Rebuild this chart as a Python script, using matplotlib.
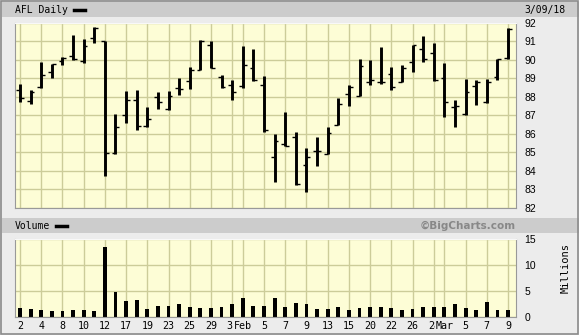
import matplotlib
matplotlib.use('Agg')
import matplotlib.pyplot as plt
from matplotlib.patches import Rectangle

# AFL daily, 2 Jan 2018 .. 9 Mar 2018
months = ['Jan'] * 21 + ['Feb'] * 19 + ['Mar'] * 7
days = [2, 3, 4, 5, 8, 9, 10, 11, 12, 16, 17, 18, 19, 22, 23, 24, 25, 26, 29, 30, 31,
        1, 2, 5, 6, 7, 8, 9, 12, 13, 14, 15, 16, 20, 21, 22, 23, 26, 27, 28,
        1, 2, 5, 6, 7, 8, 9]
opens = [88.38, 87.75, 88.55, 89.36, 89.93, 90.18, 89.91, 91.20, 91.00, 84.95,
         87.02, 87.82, 86.44, 88.00, 87.35, 88.49, 88.84, 89.42, 90.78, 89.09,
         88.64, 88.60, 89.58, 88.65, 84.75, 85.42, 85.84, 84.29, 85.09, 84.91,
         86.47, 88.16, 88.05, 88.78, 88.78, 89.22, 88.80, 89.87, 90.60, 90.36,
         89.00, 87.42, 87.09, 88.60, 87.73, 89.09, 90.07]
highs = [88.67, 88.35, 89.87, 89.76, 90.15, 91.35, 91.13, 91.78, 91.00, 87.09,
         88.29, 88.35, 87.42, 88.24, 88.29, 89.00, 89.60, 91.05, 91.00, 89.20,
         88.89, 90.75, 90.58, 89.11, 86.00, 87.15, 86.09, 85.24, 85.84, 86.38,
         87.91, 88.62, 90.04, 90.00, 90.69, 89.60, 89.69, 90.80, 91.27, 90.91,
         89.82, 87.80, 88.95, 88.89, 88.95, 90.04, 91.71]
lows = [87.71, 87.60, 88.47, 89.02, 89.73, 90.00, 89.80, 90.93, 83.73, 84.93,
        86.56, 86.20, 86.35, 87.33, 87.29, 88.09, 88.42, 89.42, 89.53, 88.47,
        87.82, 88.47, 88.87, 86.07, 83.38, 85.31, 83.24, 82.84, 84.27, 84.89,
        86.47, 87.49, 88.05, 88.64, 88.71, 88.36, 88.78, 89.35, 89.89, 88.87,
        86.89, 86.35, 87.04, 87.56, 87.67, 88.91, 90.04]
closes = [87.95, 88.24, 89.15, 89.75, 90.11, 90.04, 90.75, 91.71, 84.95, 86.36,
          87.84, 86.40, 86.82, 87.69, 88.05, 88.44, 89.42, 91.02, 89.53, 88.51,
          88.24, 89.71, 88.93, 86.22, 85.60, 85.35, 83.27, 84.75, 85.09, 86.04,
          87.62, 88.51, 89.64, 88.93, 88.80, 88.55, 89.58, 90.80, 90.02, 88.89,
          87.69, 87.51, 88.25, 88.78, 88.78, 90.04, 91.67]
volumes = [1.87, 1.68, 1.49, 1.29, 1.29, 1.49, 1.49, 1.29, 13.5, 4.78,
           3.04, 3.23, 1.68, 2.26, 2.26, 2.46, 2.07, 1.87, 1.87, 2.07,
           2.46, 3.62, 2.26, 2.26, 3.62, 2.07, 2.65, 2.46, 1.68, 1.68,
           2.07, 1.49, 1.87, 2.07, 2.07, 1.87, 1.49, 1.68, 2.07, 2.07,
           2.07, 2.46, 1.87, 1.49, 2.84, 1.49, 1.49]
price_ticks = [82, 83, 84, 85, 86, 87, 88, 89, 90, 91, 92]
volume_ticks = [0, 5, 10, 15]

BG = '#ececec'
PANEL = '#fdfdd6'
GRID = '#cccc99'
BAND = '#cccccc'

x = list(range(len(days)))

# a label every other session, counted from each month start
tick_pos, tick_lab = [], []
start = 0
for i in x:
    if i > 0 and months[i] != months[i - 1]:
        start = i
    if (i - start) % 2 == 0:
        tick_pos.append(i)
        tick_lab.append(months[i] if start > 0 and i == start else str(days[i]))

fig = plt.figure(figsize=(5.79, 3.35), dpi=100, facecolor=BG)
ax = fig.add_axes([0.0259, 0.380, 0.8653, 0.552])
axv = fig.add_axes([0.0259, 0.0528, 0.8653, 0.2338], sharex=ax)

# header bands
fig.patches.append(Rectangle((0.004, 0.949), 0.996, 0.044, transform=fig.transFigure,
                             facecolor=BAND, edgecolor='none', zorder=0))
fig.patches.append(Rectangle((0.004, 0.3045), 0.996, 0.0445, transform=fig.transFigure,
                             facecolor=BAND, edgecolor='none', zorder=0))
fig.patches.append(Rectangle((0.001, 0.003), 0.997, 0.994, transform=fig.transFigure,
                             facecolor='none', edgecolor='#8a8a8a', lw=1.2, zorder=5))

for a in (ax, axv):
    a.set_facecolor(PANEL)
    a.set_xticks(tick_pos)
    a.grid(True, color=GRID, lw=1.0)
    a.set_axisbelow(True)
    a.yaxis.tick_right()
    a.tick_params(length=0, labelsize=7.5, pad=6)
    for s in ('left', 'bottom', 'right'):
        a.spines[s].set_color('#999999')
    a.spines['top'].set_color('#f8f8f8')

# price bars
ax.vlines(x, lows, highs, color='black', lw=2.1)
ax.hlines(opens, [i - 0.36 for i in x], x, color='black', lw=1.0)
ax.hlines(closes, x, [i + 0.36 for i in x], color='black', lw=1.0)
ax.set_xlim(-0.47, 46.75)
ax.set_ylim(82, 92)
ax.set_yticks(price_ticks)
ax.tick_params(labelbottom=False)
for t in ax.get_yticklabels():
    t.set_fontfamily('Liberation Sans')

# volume bars
axv.bar(x, volumes, width=0.36, color='black')
axv.set_ylim(0, 15)
axv.set_yticks(volume_ticks)
axv.set_xticklabels(tick_lab, fontfamily='DejaVu Sans Mono', fontsize=7.2)
axv.tick_params(axis='x', pad=3)
for t in axv.get_yticklabels():
    t.set_fontfamily('Liberation Sans')
for t in axv.get_xticklabels():
    if t.get_text() in ('Feb', 'Mar'):
        t.set_bbox(dict(facecolor=BG, edgecolor='none', pad=0.3))

# titles and legend keys
fig.text(15 / 579, 1 - 10 / 335, 'AFL Daily', fontfamily='DejaVu Sans Mono', fontsize=7,
         va='center', ha='left')
fig.add_artist(plt.Line2D([74 / 579, 85 / 579], [1 - 10 / 335] * 2, color='black', lw=2.5))
fig.text(565 / 579, 1 - 9.5 / 335, '3/09/18', fontfamily='DejaVu Sans Mono', fontsize=7,
         va='center', ha='right')
fig.text(15 / 579, 1 - 226 / 335, 'Volume', fontfamily='DejaVu Sans Mono', fontsize=7,
         va='center', ha='left')
fig.add_artist(plt.Line2D([56 / 579, 67 / 579], [1 - 226 / 335] * 2, color='black', lw=2.5))
fig.text(516 / 579, 1 - 226 / 335, '\u00a9BigCharts.com', fontsize=7.5, fontweight='bold',
         color='#888888', va='center', ha='right')
fig.text(566 / 579, 1 - 268 / 335, 'Millions', fontfamily='DejaVu Sans Mono', fontsize=7.5,
         rotation=90, va='center', ha='center')

fig.savefig('out.png', dpi=100, facecolor=BG)
